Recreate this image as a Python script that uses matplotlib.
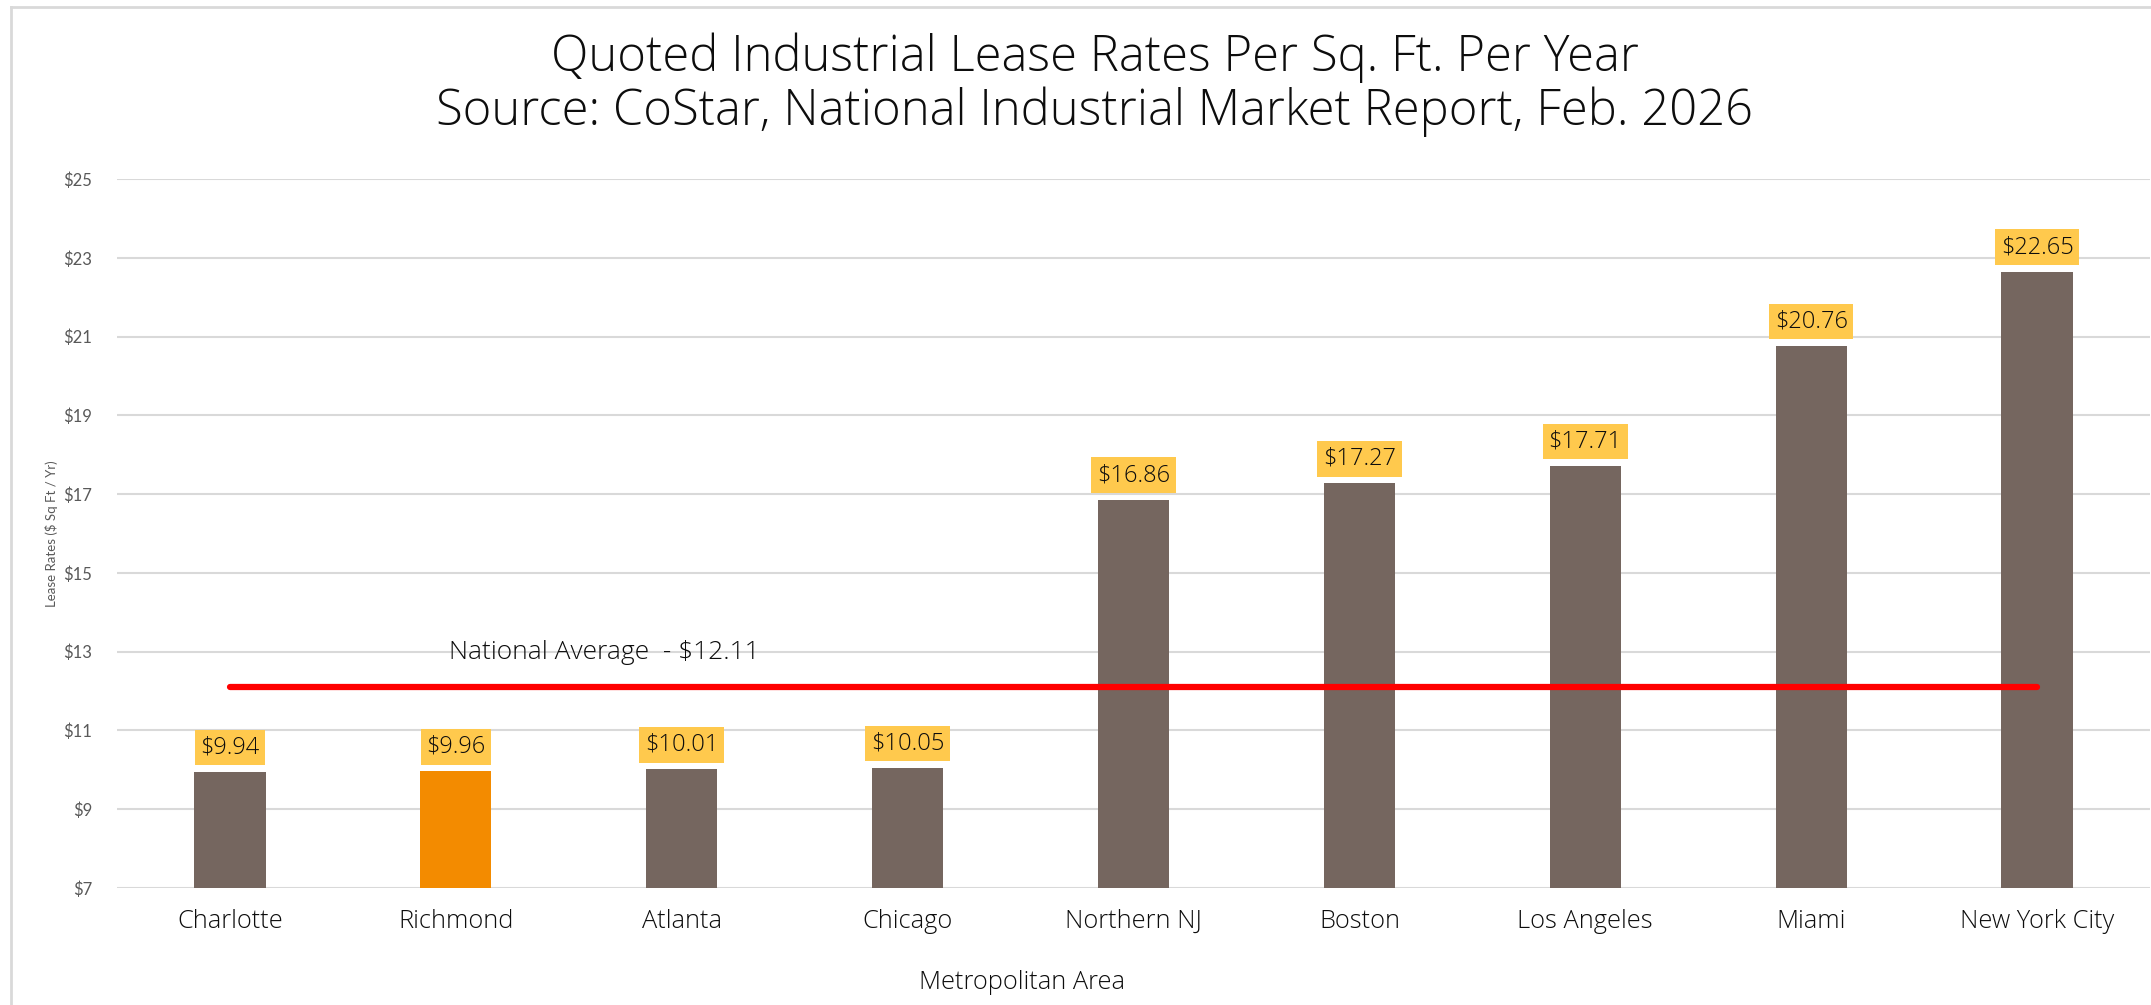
import matplotlib
matplotlib.use("Agg")
import matplotlib.pyplot as plt
from matplotlib.lines import Line2D

# data
areas = ["Charlotte", "Richmond", "Atlanta", "Chicago", "Northern NJ",
         "Boston", "Los Angeles", "Miami", "New York City"]
rates = [9.94, 9.96, 10.01, 10.05, 16.86, 17.27, 17.71, 20.76, 22.65]
national_avg = 12.11
y_ticks = [7, 9, 11, 13, 15, 17, 19, 21, 23, 25]

BAR = "#75665f"
HIGHLIGHT = "#f38b00"
LABEL_BG = "#ffc94d"
GRID = "#d9d9d9"
INK = "#0d0d0d"
WIDE = ['Open Sans', 'DejaVu Sans']

plt.rcParams['font.family'] = ['Lato', 'DejaVu Sans']

fig = plt.figure(figsize=(21.51, 10.05), dpi=100)
ax = fig.add_axes([117/2151, 117/1005, 2033/2151, 709/1005])

colors = [HIGHLIGHT if a == "Richmond" else BAR for a in areas]
x = list(range(len(areas)))
ax.bar(x, rates, width=0.315, color=colors, zorder=3)

# value labels in yellow boxes
for xi, v in zip(x, rates):
    ax.annotate("$%.2f" % v, (xi, v), xytext=(0, 9), textcoords="offset points",
                ha="center", va="bottom", fontsize=17, color=INK, zorder=5,
                family=WIDE, fontweight="light",
                bbox=dict(boxstyle="square,pad=0.24", fc=LABEL_BG, ec="none"))

# national average line
ax.plot([0, len(areas) - 1], [national_avg, national_avg], color="#ff0000",
        lw=4.5, solid_capstyle="round", zorder=4)
ax.text(0.97, 12.97, "National Average  - $12.11", fontsize=19, color=INK,
        family=WIDE, fontweight="light", ha="left", va="center", zorder=5)

ax.set_xlim(-0.5, len(areas) - 0.5)
ax.set_ylim(7, 25)
ax.set_yticks(y_ticks)
ax.set_yticklabels(["$%d" % t for t in y_ticks])
ax.set_xticks(x)
ax.set_xticklabels(areas, family=WIDE, fontweight="light")
ax.grid(axis="y", color=GRID, lw=1.5, zorder=0)
for s in ax.spines.values():
    s.set_visible(False)
ax.tick_params(axis="both", length=0)
ax.tick_params(axis="x", labelsize=18.3, pad=15, labelcolor=INK)
ax.tick_params(axis="y", labelsize=12, pad=18, labelcolor="#595959")

ax.set_xlabel("Metropolitan Area", fontsize=18.3, color=INK,
              family=WIDE, fontweight="light")
ax.xaxis.set_label_coords(0.445, -0.116)
ax.set_ylabel("Lease Rates ($ Sq Ft / Yr)", fontsize=9.5, color="#595959", labelpad=4)

fig.text(0.509, 1 - 58/1005, "Quoted Industrial Lease Rates Per Sq. Ft. Per Year",
         ha="center", va="center", fontsize=35.2, family=WIDE, fontweight="light",
         color=INK)
fig.text(0.509, 1 - 112/1005, "Source: CoStar, National Industrial Market Report, Feb. 2026",
         ha="center", va="center", fontsize=35.2, family=WIDE, fontweight="light",
         color=INK)

# chart border (left and top edges visible in the reference)
fig.add_artist(Line2D([11/2151, 11/2151], [0, 1 - 7/1005], transform=fig.transFigure,
                      color=GRID, lw=2))
fig.add_artist(Line2D([11/2151, 1], [1 - 7/1005, 1 - 7/1005], transform=fig.transFigure,
                      color=GRID, lw=2))

fig.savefig("out.png", dpi=100)
